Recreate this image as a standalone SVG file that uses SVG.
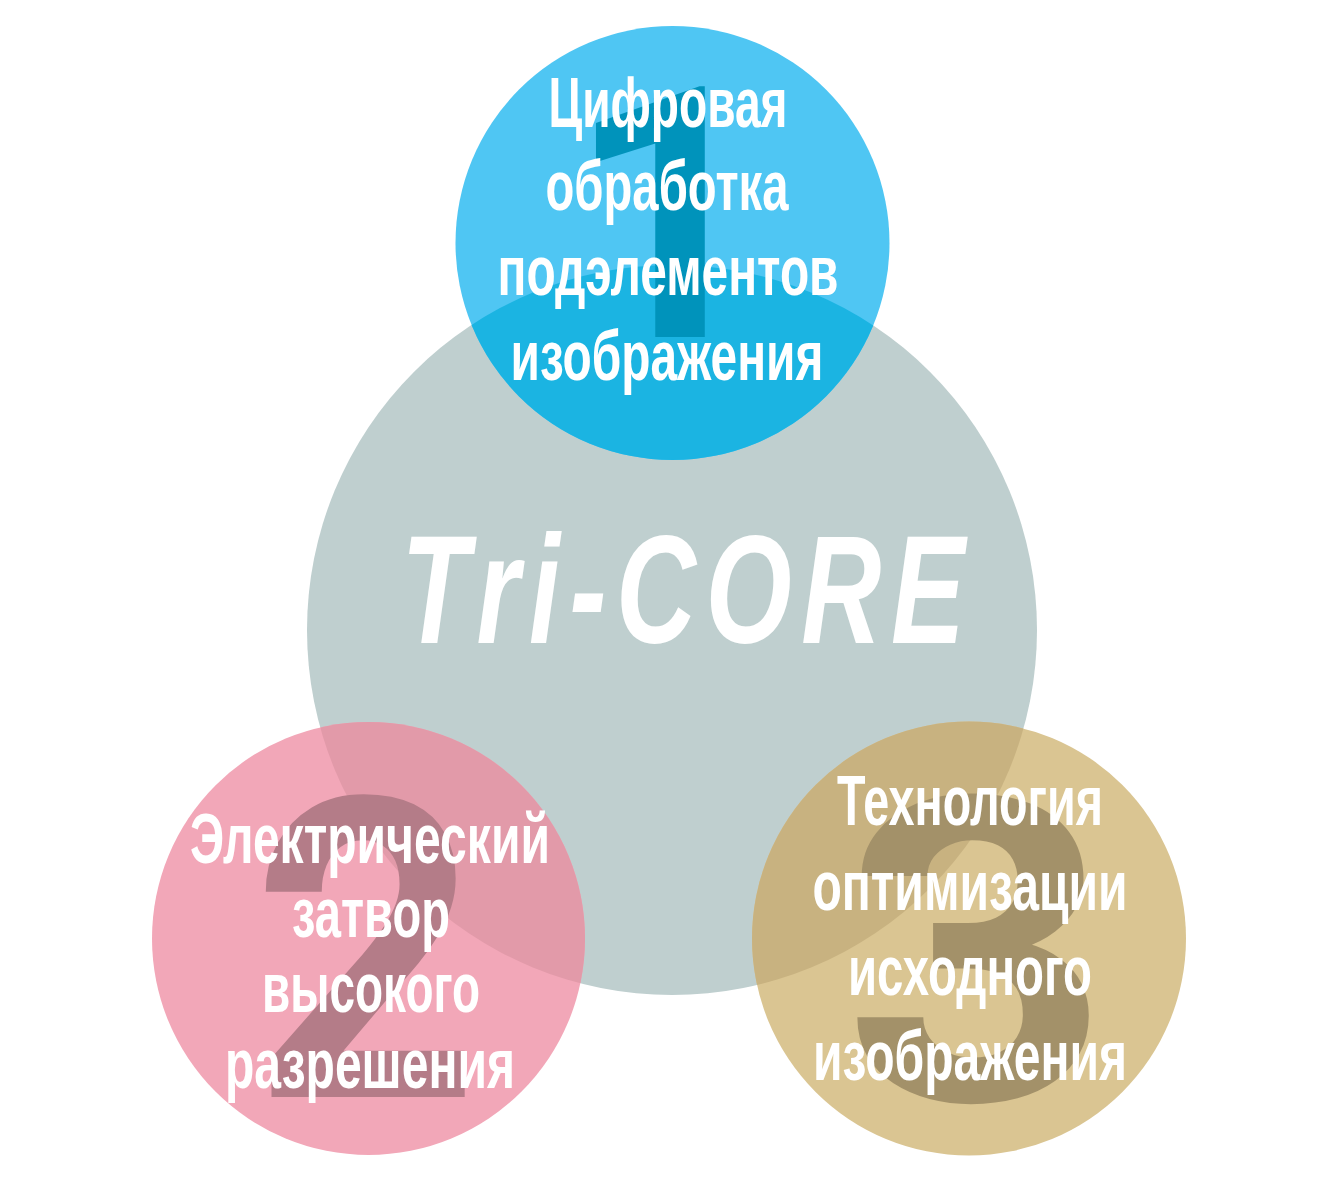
<svg xmlns="http://www.w3.org/2000/svg" width="1323" height="1182" viewBox="0 0 1323 1182">
<style>
.lbl{font-family:"Liberation Sans Narrow","Liberation Sans",Arial,sans-serif;font-weight:bold;font-size:70px;fill:#ffffff;text-anchor:middle}
.num{font-family:Roboto,"Liberation Sans",Arial,sans-serif;font-weight:bold;text-anchor:middle}
.core{font-family:"Liberation Sans",Arial,sans-serif;font-weight:bold;font-style:italic;font-size:154px;fill:#ffffff;text-anchor:middle}
</style>
<defs>
<clipPath id="coreClip"><circle cx="672" cy="630" r="365"/></clipPath>
</defs>
<rect width="1323" height="1182" fill="#ffffff"/>
<g id="core">
<circle cx="672" cy="630" r="365" fill="#bfcfcf"/>
</g>
<g id="node1">
<circle cx="672.5" cy="243" r="217" fill="#4fc6f3"/>
<circle cx="672.5" cy="243" r="217" fill="#1bb4e2" clip-path="url(#coreClip)"/>
<text class="num" x="668" y="337" font-size="352" fill="#0093bb">1</text>
<text class="lbl" x="668" y="127" textLength="239" lengthAdjust="spacingAndGlyphs">Цифровая</text>
<text class="lbl" x="667" y="210" textLength="243" lengthAdjust="spacingAndGlyphs">обработка</text>
<text class="lbl" x="668" y="295" textLength="341" lengthAdjust="spacingAndGlyphs">подэлементов</text>
<text class="lbl" x="667" y="380" textLength="313" lengthAdjust="spacingAndGlyphs">изображения</text>
</g>
<g id="node2">
<circle cx="368.5" cy="938.5" r="216.5" fill="#f2a7b8"/>
<circle cx="368.5" cy="938.5" r="216.5" fill="#e29aa9" clip-path="url(#coreClip)"/>
<text class="num" x="366" y="1097" font-size="420" fill="#b47c88" textLength="228" lengthAdjust="spacingAndGlyphs">2</text>
<text class="lbl" x="370" y="863" textLength="360" lengthAdjust="spacingAndGlyphs">Электрический</text>
<text class="lbl" x="371" y="937" textLength="158" lengthAdjust="spacingAndGlyphs">затвор</text>
<text class="lbl" x="371" y="1012" textLength="218" lengthAdjust="spacingAndGlyphs">высокого</text>
<text class="lbl" x="370" y="1088" textLength="290" lengthAdjust="spacingAndGlyphs">разрешения</text>
</g>
<g id="node3">
<circle cx="969" cy="938.5" r="217" fill="#dac592"/>
<circle cx="969" cy="938.5" r="217" fill="#c8b280" clip-path="url(#coreClip)"/>
<text class="num" x="977" y="1100" font-size="425" fill="#a39169" textLength="268" lengthAdjust="spacingAndGlyphs">3</text>
<text class="lbl" x="970" y="825" textLength="266" lengthAdjust="spacingAndGlyphs">Технология</text>
<text class="lbl" x="970" y="910" textLength="315" lengthAdjust="spacingAndGlyphs">оптимизации</text>
<text class="lbl" x="970" y="995" textLength="244" lengthAdjust="spacingAndGlyphs">исходного</text>
<text class="lbl" x="970" y="1080" textLength="314" lengthAdjust="spacingAndGlyphs">изображения</text>
</g>
<g id="title" transform="translate(683,643) scale(0.72,1)">
<text class="core" x="0" y="0" textLength="783" lengthAdjust="spacing">Tri-CORE</text>
</g>
<g id="connectors"></g>
</svg>
